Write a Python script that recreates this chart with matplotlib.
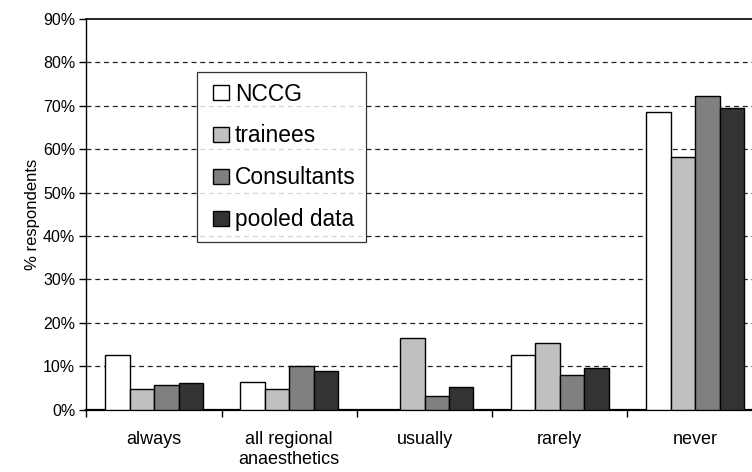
import matplotlib
matplotlib.use("Agg")
import matplotlib.pyplot as plt
import numpy as np
from matplotlib.ticker import FixedLocator, PercentFormatter
from matplotlib.legend_handler import HandlerPatch
from matplotlib.patches import Rectangle

plt.rcParams['font.family'] = ['Liberation Sans', 'DejaVu Sans']

categories = ["always", "all regional\nanaesthetics", "usually", "rarely", "never"]
series_names = ["NCCG", "trainees", "Consultants", "pooled data"]
nccg = [12.5, 6.3, 0.0, 12.5, 68.5]
trainees = [4.7, 4.7, 16.6, 15.4, 58.1]
consultants = [5.8, 10.1, 3.1, 7.9, 72.2]
pooled = [6.2, 8.9, 5.3, 9.5, 69.5]
yticks = [0, 10, 20, 30, 40, 50, 60, 70, 80, 90]

series = [nccg, trainees, consultants, pooled]
colors = ["#ffffff", "#c0c0c0", "#808080", "#333333"]

fig = plt.figure(figsize=(7.52, 4.72), dpi=100)
ax = fig.add_axes([86.4 / 752, (472 - 409.7) / 472, 676.25 / 752, (409.7 - 19) / 472])

x = np.arange(len(categories))
w = 0.181
bars = []
for i, (vals, c, name) in enumerate(zip(series, colors, series_names)):
    b = ax.bar(x + (i - 1.5) * w, vals, width=w, color=c, edgecolor="black",
               linewidth=1.0, label=name, zorder=3)
    bars.append(b)

ax.set_xlim(-0.5, len(categories) - 0.5)
ax.set_ylim(0, 90)
ax.set_yticks(yticks)
ax.yaxis.set_major_formatter(PercentFormatter(decimals=0))
ax.tick_params(axis='y', direction='out', length=5, width=1, labelsize=11.5, pad=3)

ax.set_xticks(x)
ax.set_xticklabels(categories, fontsize=13, linespacing=1.25)
ax.tick_params(axis='x', which='major', length=0, pad=15)
ax.xaxis.set_minor_locator(FixedLocator(np.arange(-0.5, len(categories), 1.0)))
ax.tick_params(axis='x', which='minor', direction='out', length=5, width=1)

for yv in yticks[1:-1]:
    ax.axhline(yv, color="#222222", linestyle=(0, (4, 3)), linewidth=0.9, zorder=1)

ax.spines['left'].set_linewidth(1.0)
ax.spines['bottom'].set_linewidth(1.6)
ax.spines['top'].set_linewidth(1.2)
ax.spines['right'].set_visible(False)

ax.set_ylabel("% respondents", fontsize=12, labelpad=2)


def square_right(legend, orig_handle, xdescent, ydescent, width, height, fontsize):
    return Rectangle((-xdescent + width - height, -ydescent), height, height)


handles = [b.patches[0] for b in bars]
leg = ax.legend(handles, series_names,
                loc='upper left', bbox_to_anchor=(196.7 / 752, 1 - 72.3 / 472),
                bbox_transform=fig.transFigure, borderaxespad=0, fontsize=16.4,
                frameon=True, fancybox=False, edgecolor="black",
                handlelength=0.95, handleheight=0.66, handletextpad=0.28,
                labelspacing=0.83, borderpad=0.45,
                handler_map={Rectangle: HandlerPatch(patch_func=square_right)})
leg.get_frame().set_linewidth(0.9)

fig.savefig("out.png", dpi=100, facecolor="white")
